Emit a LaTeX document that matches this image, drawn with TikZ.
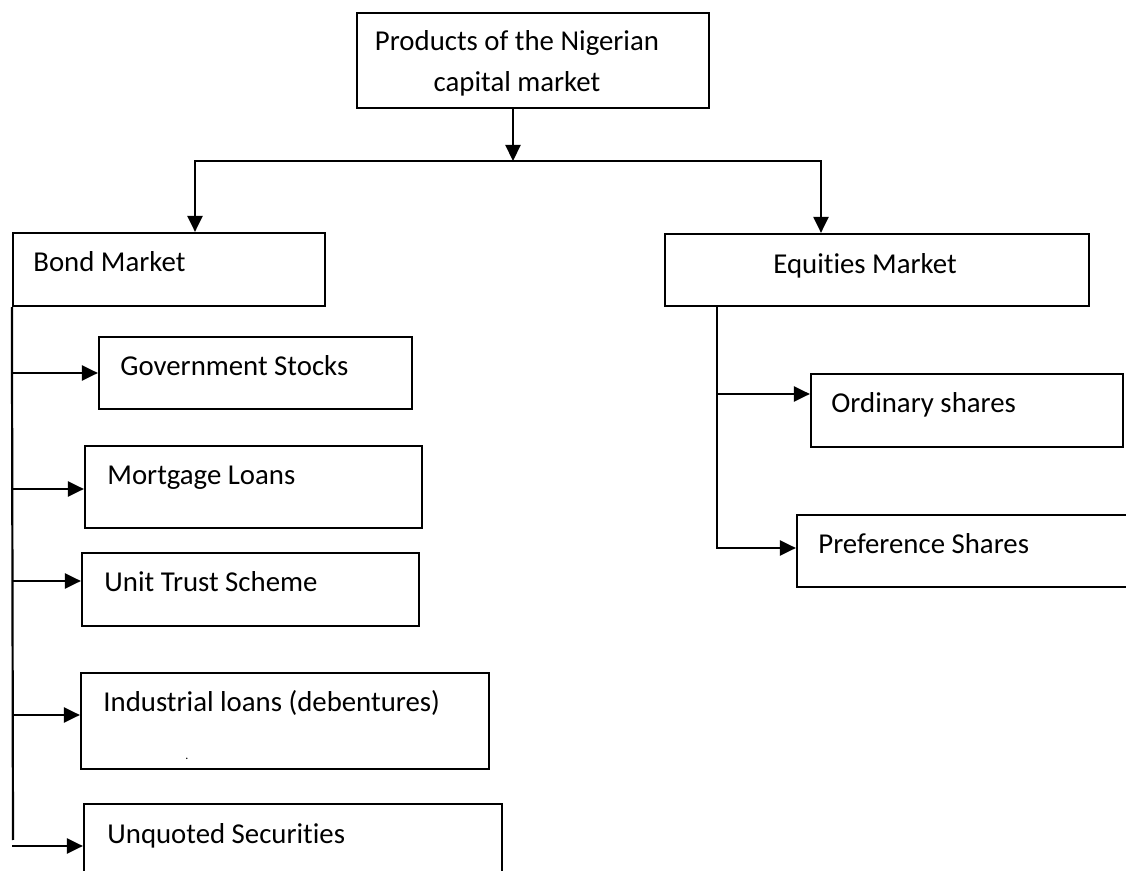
\documentclass[tikz,border=0pt]{standalone}
\usepackage{fontspec}
\setmainfont{Carlito}[Ligatures=CommonOff]
\usetikzlibrary{arrows.meta,fit}
\tikzset{
  prodbox/.style={draw,line width=1.1pt,inner sep=0pt},
  lbl/.style={anchor=base west,inner sep=0pt,font=\fontsize{14.4}{20.5}\selectfont},
  conn/.style={line width=1.1pt},
  arr/.style={line width=1.1pt,-{Triangle[length=8pt,width=7.5pt]}},
  arrs/.style={line width=1.1pt,{Triangle[length=8pt,width=7.5pt]}-{Triangle[length=8pt,width=7.5pt]}}
}
\begin{document}
\begin{tikzpicture}[x=0.5pt,y=-0.5pt]
  \useasboundingbox (0,0) rectangle (1126,871);
  \clip (0,0) rectangle (1126,871);
  % top box
  \node[prodbox,fit={(357,13)(709,108)}] (prod) {};
  \node[lbl,anchor=base] (prod-a) at (517,51) {Products of the Nigerian};
  \node[lbl,anchor=base] (prod-b) at (517,92) {capital market};
  % the two markets
  \node[prodbox,fit={(13,233)(325,306)}] (bond) {};
  \node[lbl] (bond-t) at (33,272) {Bond Market};
  \node[prodbox,fit={(665,234)(1089,306)}] (equity) {};
  \node[lbl] (equity-t) at (773,274) {Equities Market};
  % bond market products
  \node[prodbox,fit={(99,337)(412,409)}] (gov) {};
  \node[lbl] (gov-t) at (120,376) {Government Stocks};
  \node[prodbox,fit={(85,446)(422,528)}] (mort) {};
  \node[lbl] (mort-t) at (107,485) {Mortgage Loans};
  \node[prodbox,fit={(82,553)(419,626)}] (unit) {};
  \node[lbl] (unit-t) at (104,592) {Unit Trust Scheme};
  \node[prodbox,fit={(81,673)(489,769)}] (indu) {};
  \node[lbl] (indu-t) at (103,712) {Industrial loans (debentures)};
  \node[lbl,font=\fontsize{6}{7}\selectfont] (indu-d) at (185,760) {.};
  \node[prodbox,fit={(84,804)(502,895)}] (unq) {};
  \node[lbl] (unq-t) at (107,843) {Unquoted Securities};
  % equities market products
  \node[prodbox,fit={(811,374)(1123,447)}] (ord) {};
  \node[lbl] (ord-t) at (831,413) {Ordinary shares};
  \node[prodbox,fit={(797,515)(1140,587)}] (pref) {};
  \node[lbl] (pref-t) at (818,554) {Preference Shares};

  % top split
  \coordinate (split) at (513,161);
  \coordinate (lcorner) at (195,161);
  \coordinate (rcorner) at (821,161);
  \draw[arr] (prod.south -| split) -- (split);
  \draw[arrs] (lcorner |- bond.north) -- (lcorner) -- (rcorner) -- (rcorner |- equity.north);

  % bond trunk
  \coordinate (bend) at (13,840);
  \draw[conn] (bond.south west) -- (bend);
  \coordinate (b1) at (13,373);
  \coordinate (b2) at (13,489);
  \coordinate (b3) at (13,581);
  \coordinate (b4) at (13,715);
  \coordinate (b5) at (12,846);
  \draw[arr] (b1) -- (b1 -| gov.west);
  \draw[arr] (b2) -- (b2 -| mort.west);
  \draw[arr] (b3) -- (b3 -| unit.west);
  \draw[arr] (b4) -- (b4 -| indu.west);
  \draw[arr] (b5) -- (b5 -| unq.west);

  % equities trunk
  \coordinate (etrunk) at (717,306);
  \coordinate (e1) at (717,394);
  \coordinate (e2) at (717,548);
  \draw[conn] (equity.south -| etrunk) -- (e1);
  \draw[arr] (e1) -- (e1 -| ord.west);
  \draw[arr] (e1) -- (e2) -- (e2 -| pref.west);
\end{tikzpicture}
\end{document}
